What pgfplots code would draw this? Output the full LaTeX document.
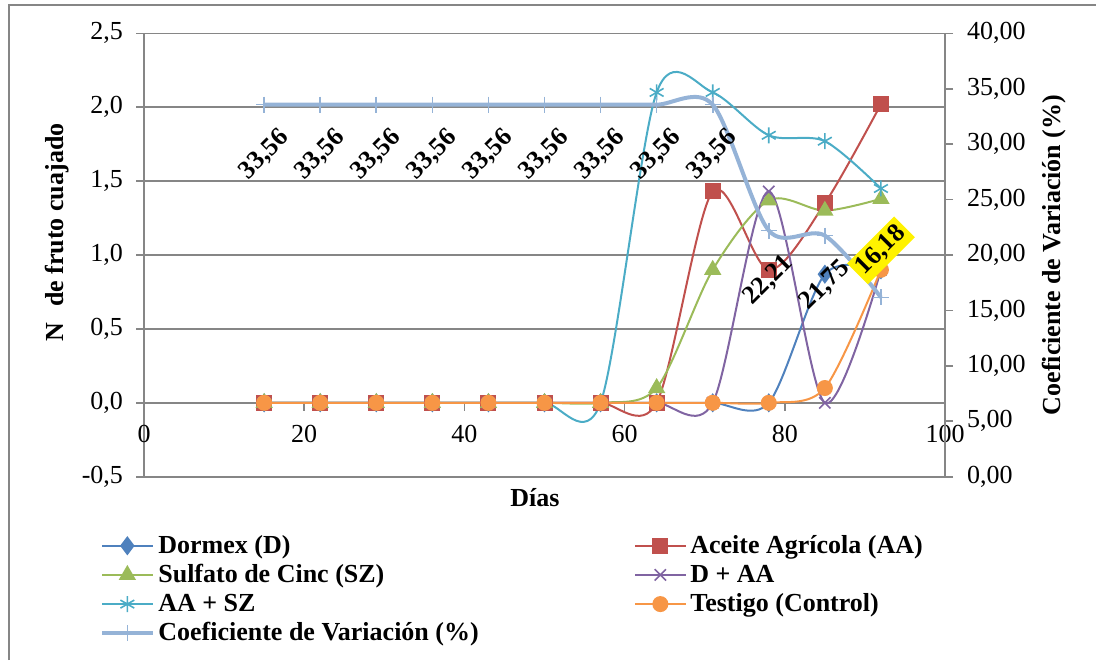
\documentclass[border=0pt]{standalone}
\usepackage{fontspec}
\setmainfont{Liberation Serif}
\usepackage{pgfplots}
\pgfplotsset{compat=1.18}
\definecolor{cD}{HTML}{4F81BD}
\definecolor{cAA}{HTML}{C0504D}
\definecolor{cSZ}{HTML}{9BBB59}
\definecolor{cDAA}{HTML}{8064A2}
\definecolor{cAASZ}{HTML}{4BACC6}
\definecolor{cT}{HTML}{F79646}
\definecolor{cCV}{HTML}{95B3D7}
\definecolor{axgray}{HTML}{868686}
\newcommand{\fs}{\fontsize{13}{15}\selectfont}
\begin{document}
\begin{tikzpicture}
\path[use as bounding box] (0,0) rectangle (548pt,330pt);
\draw[axgray, line width=0.8pt] (4.5pt,0) -- (4.5pt,327.5pt) -- (548pt,327.5pt);
\begin{axis}[
  at={(72pt,91.65pt)}, anchor=south west,
  scale only axis, width=400.5pt, height=221.7pt,
  xmin=0, xmax=100, ymin=-0.5, ymax=2.5,
  xtick={0,20,...,100}, ytick={-0.5,0,0.5,1,1.5,2,2.5},
  axis x line=middle, axis y line=left,
  hide obscured x ticks=false,
  axis line style={draw=axgray, line width=0.8pt, -},
  tick style={draw=axgray, line width=0.8pt},
  tick align=outside, major tick length=4pt,
  ymajorgrids, grid style={draw=axgray, line width=0.8pt},
  tick label style={font=\fs},
  /pgf/number format/assume math mode=true,
  yticklabel style={xshift=-3pt, /pgf/number format/.cd, fixed, fixed zerofill, precision=1, use comma},
  xticklabel style={yshift=-3.5pt, /pgf/number format/.cd, fixed, precision=0},
  xlabel={\textbf{Días}},
  xlabel style={font=\fs, at={(axis description cs:0.488,-0.047)}, anchor=center},
  ylabel={\textbf{N\hspace{0.6em}de fruto cuajado}},
  ylabel style={font=\fs, at={(axis description cs:-0.108,0.551)}, anchor=center, rotate=0},
  legend columns=2,
  legend cell align=left,
  legend style={at={(axis description cs:-0.055,-0.122)}, anchor=north west,
    draw=none, fill=none, font=\fs\bfseries, row sep=0pt, column sep=0pt,
    inner sep=0pt},
  legend image code/.code={\draw[mark repeat=2,mark phase=2] plot coordinates {(0pt,0pt) (12.5pt,0pt) (25pt,0pt)};},
  every axis plot/.append style={smooth, line width=1pt},
]
\addplot[color=cD, mark=diamond*, mark size=4pt, mark options={solid}] coordinates {
(15,0) (22,0) (29,0) (36,0) (43,0) (50,0) (57,0) (64,0) (71,0) (78,0) (85,0.87) (92,0.9)};
\addlegendentry{\makebox[236pt][l]{Dormex (D)}}
\addplot[color=cAA, mark=square*, mark size=3.5pt, mark options={solid}] coordinates {
(15,0) (22,0) (29,0) (36,0) (43,0) (50,0) (57,0) (64,0) (71,1.43) (78,0.9) (85,1.35) (92,2.02)};
\addlegendentry{Aceite Agrícola (AA)}
\addplot[color=cSZ, mark=triangle*, mark size=4pt, mark options={solid}] coordinates {
(15,0) (22,0) (29,0) (36,0) (43,0) (50,0) (57,0) (64,0.1) (71,0.9) (78,1.37) (85,1.3) (92,1.38)};
\addlegendentry{\makebox[236pt][l]{Sulfato de Cinc (SZ)}}
\addplot[color=cDAA, mark=x, mark size=4pt, mark options={solid, line width=0.8pt}] coordinates {
(15,0) (22,0) (29,0) (36,0) (43,0) (50,0) (57,0) (64,0) (71,0) (78,1.43) (85,0) (92,0.9)};
\addlegendentry{D + AA}
\addplot[color=cAASZ, mark=asterisk, mark size=4pt, mark options={solid, line width=0.8pt}] coordinates {
(15,0) (22,0) (29,0) (36,0) (43,0) (50,0) (57,0) (64,2.1) (71,2.1) (78,1.81) (85,1.77) (92,1.45)};
\addlegendentry{\makebox[236pt][l]{AA + SZ}}
\addplot[color=cT, mark=*, mark size=3.5pt, mark options={solid}] coordinates {
(15,0) (22,0) (29,0) (36,0) (43,0) (50,0) (57,0) (64,0) (71,0) (78,0) (85,0.1) (92,0.9)};
\addlegendentry{Testigo (Control)}
\addlegendimage{color=cCV, line width=2pt, mark=+, mark size=4pt, mark options={line width=0.8pt}}
\addlegendentry{\makebox[236pt][l]{Coeficiente de Variación (\%)}}
\end{axis}
\begin{axis}[
  at={(72pt,91.65pt)}, anchor=south west,
  scale only axis, width=400.5pt, height=221.7pt,
  xmin=0, xmax=100, ymin=0, ymax=40,
  ytick={0,5,...,40},
  axis x line=none, axis y line*=right,
  axis line style={draw=axgray, line width=0.8pt, -},
  tick style={draw=axgray, line width=0.8pt},
  tick align=outside, major tick length=4pt,
  tick label style={font=\fs},
  /pgf/number format/assume math mode=true,
  yticklabel style={xshift=3.5pt, /pgf/number format/.cd, fixed, fixed zerofill, precision=2, use comma},
  ylabel={\textbf{Coeficiente de Variación (\%)}},
  ylabel style={font=\fs, at={(axis description cs:1.136,0.5)}, anchor=center, rotate=0},
]
\addplot[color=cCV, line width=2pt, smooth, mark=+, mark size=4pt, mark options={line width=0.8pt}] coordinates {
(15,33.56) (22,33.56) (29,33.56) (36,33.56) (43,33.56) (50,33.56) (57,33.56) (64,33.56) (71,33.56) (78,22.21) (85,21.75) (92,16.18)};
\addplot[draw=none, no markers, nodes near coords, point meta=explicit symbolic,
  every node near coord/.append style={anchor=center, yshift=-25pt, rotate=45, font=\fs\bfseries, inner sep=0pt}]
  table[meta=lab] {
x y lab
15 33.56 33,56
22 33.56 33,56
29 33.56 33,56
36 33.56 33,56
43 33.56 33,56
50 33.56 33,56
57 33.56 33,56
64 33.56 33,56
71 33.56 33,56
78 22.21 22,21
85 21.75 21,75
};
\addplot[draw=none, no markers, nodes near coords, point meta=explicit symbolic,
  every node near coord/.append style={anchor=center, yshift=23.5pt, rotate=45, font=\fs\bfseries, fill=yellow, inner sep=2pt}]
  table[meta=lab] {
x y lab
92 16.18 16,18
};
\end{axis}
\end{tikzpicture}
\end{document}
